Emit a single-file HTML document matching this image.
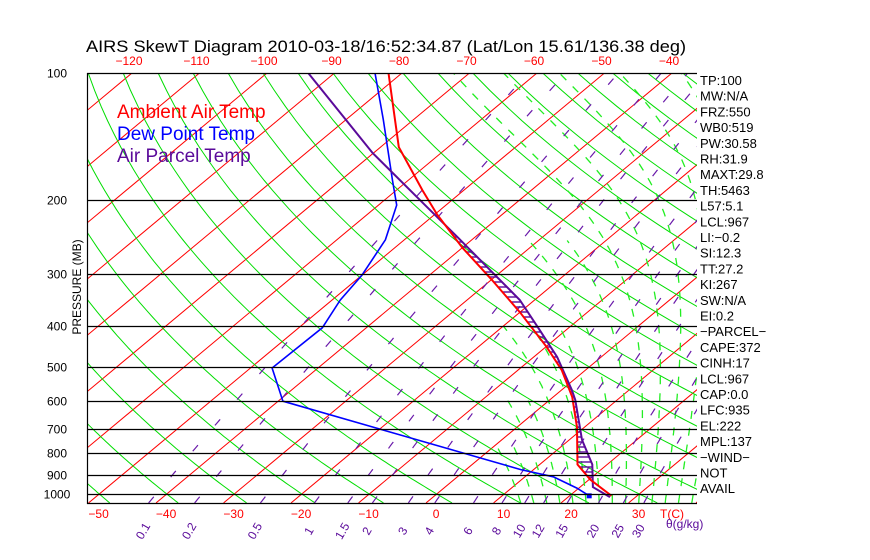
<!DOCTYPE html>
<html><head><meta charset="utf-8"><style>
html,body{margin:0;padding:0;background:#fff;}
svg{display:block;font-family:"Liberation Sans",sans-serif;}
</style></head><body>
<svg id="chart" width="870" height="560" viewBox="0 0 870 560" xmlns="http://www.w3.org/2000/svg">
<defs><clipPath id="plotclip"><rect x="87" y="73" width="610" height="430"/></clipPath></defs>
<rect x="0" y="0" width="870" height="560" fill="#fff"/>
<text x="86" y="52" font-size="17" textLength="600" lengthAdjust="spacingAndGlyphs" fill="#000">AIRS SkewT Diagram 2010-03-18/16:52:34.87 (Lat/Lon 15.61/136.38 deg)</text>
<g id="grid" clip-path="url(#plotclip)"></g>
<g id="series" clip-path="url(#plotclip)"></g>
<g id="axes"></g>
<g font-size="19">
<text x="117" y="118" fill="#ff0000">Ambient Air Temp</text>
<text x="117" y="140" fill="#0000ff">Dew Point Temp</text>
<text x="117" y="162" fill="#5a0a9a">Air Parcel Temp</text>
</g>
<text transform="translate(81,287) rotate(-90)" text-anchor="middle" font-size="12" fill="#000">PRESSURE (MB)</text>
<g id="rightlabels" font-size="13" fill="#000"></g>
</svg>
<script>
// ---- data ----
var tempP = [100,150,190,217,260,310,370,448,508,588,694,851,925,1010];
var tempC = [-82.0,-67.3,-56.1,-49.6,-40.0,-29.9,-20.0,-9.8,-3.5,2.8,8.9,15.6,20.2,26.2];
var dewP = [100,129,180,206,249,302,346,403,502,602,875,910,968,1010];
var dewC = [-84.0,-74.5,-62.3,-57.3,-52.8,-50.0,-48.8,-46.5,-46.8,-39.3,8.1,14.2,19.7,22.9];
var parcelP = [100,155,208,245,305,346,408,473,566,598,744,851,963,1017];
var parcelC = [-93.9,-70.1,-52.5,-42.7,-29.7,-22.2,-13.9,-6.5,1.5,3.8,11.9,17.8,21.9,26.2];
var pressureTicks = [100,200,300,400,500,600,700,800,900,1000];
var topTempTicks = [-120,-110,-100,-90,-80,-70,-60,-50,-40];
var bottomTempTicks = [-50,-40,-30,-20,-10,0,10,20,30];
var mixRatios = [0.1,0.2,0.5,1,1.5,2,3,4,6,8,10,12,15,20,25,30];
var mixLabels = ["0.1","0.2","0.5","1","1.5","2","3","4","6","8","10","12","15","20","25","30"];
var indexLabels = ["TP:100","MW:N/A","FRZ:550","WB0:519","PW:30.58","RH:31.9","MAXT:29.8","TH:5463","L57:5.1","LCL:967","LI:\u22120.2","SI:12.3","TT:27.2","KI:267","SW:N/A","EI:0.2","\u2212PARCEL\u2212","CAPE:372","CINH:17","LCL:967","CAP:0.0","LFC:935","EL:222","MPL:137","\u2212WIND\u2212","NOT","AVAIL"];

var NS="http://www.w3.org/2000/svg";
var PBOT=1050;
function yP(p){return 73+421*Math.log10(p/100);}
function xTP(t,p){return 426+6.75*t+1.2*(503-yP(p));}
function mk(tag,attrs,parent){var e=document.createElementNS(NS,tag);for(var k in attrs)e.setAttribute(k,attrs[k]);parent.appendChild(e);return e;}
function pts(arr){return arr.map(function(a){return a[0].toFixed(1)+","+a[1].toFixed(1);}).join(" ");}
var grid=document.getElementById("grid"),series=document.getElementById("series"),axes=document.getElementById("axes");

// isotherms
for(var T=-170;T<=50;T+=10){
  var l=mk("line",{x1:xTP(T,PBOT),y1:yP(PBOT),x2:xTP(T,100),y2:yP(100),stroke:"#ff0000","stroke-width":1},grid);
  
  
}
// dry adiabats
for(var th=-60;th<=210;th+=10){
  var a=[];for(var p=PBOT;p>=100;p-=10){var t=(th+273.15)*Math.pow(p/1000,0.2857)-273.15;a.push([xTP(t,p),yP(p)]);}
  var pl=mk("polyline",{points:pts(a),fill:"none",stroke:"#00dd00","stroke-width":1},grid);
  
  
}
// moist adiabats
function es(T){return 6.112*Math.exp(17.67*(T-273.15)/(T-29.65));}
function dTdp(T,p){var e=es(T),rs=0.622*e/(p-e),Lv=2.501e6,Rd=287.04;return (1/p)*(Rd*T+Lv*rs)/(1005.7+Lv*Lv*rs*0.622/(Rd*T*T));}
function moist(T0,ptop){var T,p,dp,k1,k2;
  var up=[];for(p=1000,T=T0+273.15;p>=ptop;p-=5){up.push([xTP(T-273.15,p),yP(p)]);dp=-5;k1=dTdp(T,p);k2=dTdp(T+k1*dp,p+dp);T+=0.5*(k1+k2)*dp;}
  var dn=[];for(p=1000,T=T0+273.15;p<=PBOT;p+=5){dn.unshift([xTP(T-273.15,p),yP(p)]);dp=5;k1=dTdp(T,p);k2=dTdp(T+k1*dp,p+dp);T+=0.5*(k1+k2)*dp;}
  return dn.concat(up);}
for(var tw=12;tw<=38;tw+=2){
  var ptop = tw>=30 ? 100 : (tw>=26 ? 250 : (tw>=20 ? 400 : (tw>=16 ? 600 : 750)));
  var ml=mk("polyline",{points:pts(moist(tw,ptop)),fill:"none",stroke:"#22ee22","stroke-width":1.3,"stroke-dasharray":"8 9"},grid);
  
  
}
// mixing ratio lines
function tdw(w,p){var e=w*p/(622+w);var L=Math.log(e/6.112);return 243.5*L/(17.67-L);}
mixRatios.forEach(function(w,i){
  var a=[];for(var p=PBOT;p>=100;p-=10)a.push([xTP(tdw(w,p),p),yP(p)]);
  var wl=mk("polyline",{points:pts(a),fill:"none",stroke:"#6a1aaa","stroke-width":1.2,"stroke-dasharray":"8 26"},grid);
  
  
  var x=xTP(tdw(w,PBOT),PBOT);
  var tx=mk("text",{transform:"translate("+(x-2)+",533) rotate(-60)","font-size":"12",fill:"#5a0a9a","text-anchor":"middle"},axes);
  tx.textContent=mixLabels[i];
  
  
});
// pressure lines
pressureTicks.forEach(function(p){
  var y=Math.round(yP(p))+0.5;
  var l=mk("line",{x1:87,y1:y,x2:697,y2:y,stroke:"#000","stroke-width":1.2},axes);
  
  
  var t=mk("text",{x:57,y:y+4,"text-anchor":"middle","font-size":"12",fill:"#000"},axes);
  t.textContent=p;
  
  
});
var bl=mk("line",{x1:87,y1:503.5,x2:697,y2:503.5,stroke:"#000","stroke-width":1.2},axes);


var lb=mk("line",{x1:87.5,y1:73,x2:87.5,y2:504,stroke:"#000","stroke-width":1.2},axes);


topTempTicks.forEach(function(t){
  var tx=mk("text",{x:xTP(t,100)-3,y:65,"text-anchor":"middle","font-size":"12",fill:"#ff0000"},axes);
  tx.textContent=String(t).replace("-","\u2212");
  
  
});
bottomTempTicks.forEach(function(t){
  var tx=mk("text",{x:xTP(t,PBOT)+10,y:518,"text-anchor":"middle","font-size":"12",fill:"#ff0000"},axes);
  tx.textContent=String(t).replace("-","\u2212");
  
  
});
var tc=mk("text",{x:672,y:518,"text-anchor":"middle","font-size":"12",fill:"#ff0000"},axes);
tc.textContent="T(C)";


var gk=mk("text",{x:666,y:528,"font-size":"12",fill:"#5a0a9a"},axes);
gk.textContent="\u03b8(g/kg)";



// profiles
function prof(P,C){return P.map(function(p,i){return [xTP(C[i],p),yP(p)];});}
var tP=prof(tempP,tempC),pP=prof(parcelP,parcelC),dP=prof(dewP,dewC);
function xAtY(arr,y){for(var i=0;i<arr.length-1;i++){var a=arr[i],b=arr[i+1];if(y>=a[1]&&y<=b[1]){var f=(y-a[1])/(b[1]-a[1]||1);return a[0]+f*(b[0]-a[0]);}}return null;}
// CAPE hatching
for(var y=222;y<=494;y+=5){
  var xt=xAtY(tP,y),xp=xAtY(pP,y);
  if(xt!==null&&xp!==null&&xp>xt+1.5){
    var h=mk("line",{x1:xt,y1:y,x2:xp,y2:y,stroke:"#5a0a9a","stroke-width":1.4},series);
    
    
  }
}
var dl=mk("polyline",{points:pts(dP),fill:"none",stroke:"#0000ff","stroke-width":1.6},series);


var last=dP[dP.length-1];
var dm=mk("rect",{x:last[0]-2.5,y:last[1]-2.5,width:5,height:5,fill:"#0000ff"},series);


var pl2=mk("polyline",{points:pts(pP),fill:"none",stroke:"#5a0a9a","stroke-width":2},series);


var tl=mk("polyline",{points:pts(tP),fill:"none",stroke:"#ff0000","stroke-width":2},series);



// right labels
var rl=document.getElementById("rightlabels");
indexLabels.forEach(function(s,i){
  var t=mk("text",{x:700,y:85+i*15.7},rl);
  t.textContent=s;
  
  
});
</script>
</body></html>
